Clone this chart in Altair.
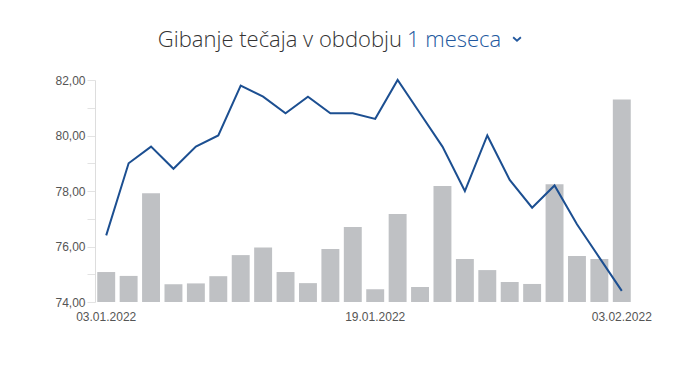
import altair as alt
import pandas as pd

dates = ["03.01.2022", "04.01.2022", "05.01.2022", "06.01.2022", "07.01.2022",
         "10.01.2022", "11.01.2022", "12.01.2022", "13.01.2022", "14.01.2022",
         "17.01.2022", "18.01.2022", "19.01.2022", "20.01.2022", "21.01.2022",
         "24.01.2022", "25.01.2022", "26.01.2022", "27.01.2022", "28.01.2022",
         "31.01.2022", "01.02.2022", "02.02.2022", "03.02.2022"]
price = [76.4, 79.0, 79.6, 78.8, 79.6, 80.0, 81.8, 81.4, 80.8, 81.4,
         80.8, 80.8, 80.6, 82.0, 80.8, 79.6, 78.0, 80.0, 78.4, 77.4,
         78.2, 76.8, 75.6, 74.4]
volume = [1.08, 0.94, 3.92, 0.64, 0.67, 0.93, 1.69, 1.96, 1.08, 0.68,
          1.91, 2.70, 0.46, 3.17, 0.54, 4.18, 1.55, 1.15, 0.72, 0.65,
          4.24, 1.66, 1.55, 7.30]
x_labels = ["03.01.2022", "19.01.2022", "03.02.2022"]
y_ticks = [74, 75, 76, 77, 78, 79, 80, 81, 82]
title_main = ["Gibanje tečaja v obdobju"]
title_period = ["1 meseca"]

df = pd.DataFrame({"datum": dates, "tecaj": price, "promet": volume})

x_enc = alt.X("datum:N", sort=dates,
              scale=alt.Scale(paddingInner=0.2, paddingOuter=0.1),
              axis=alt.Axis(values=x_labels, title=None, labelAngle=0,
                            ticks=False, domain=False, labelPadding=9,
                            labelFont="Liberation Sans", labelFontSize=12,
                            labelColor="#555555"))

bars = alt.Chart(df).mark_bar(color="#bfc1c4").encode(
    x=x_enc,
    y=alt.Y("promet:Q", scale=alt.Scale(domain=[0, 8], nice=False), axis=None),
)

line = alt.Chart(df).mark_line(color="#1c4f91", strokeWidth=2).encode(
    x=alt.X("datum:N", sort=dates),
    y=alt.Y("tecaj:Q", scale=alt.Scale(domain=[74, 82], nice=False, zero=False),
            axis=alt.Axis(values=y_ticks, title=None, tickSize=8,
                          tickColor="#e3e3e3", domainColor="#dddddd",
                          gridColor="#e6e6e6",
                          labelExpr="datum.value % 2 == 0 ? replace(format(datum.value, '.2f'), '.', ',') : ''",
                          labelPadding=2, labelFont="Liberation Sans",
                          labelFontSize=12, labelColor="#555555")),
)

t1 = alt.Chart(pd.DataFrame({"t": title_main})).mark_text(
    align="right", baseline="alphabetic", font="Open Sans", fontSize=22,
    fontWeight=300, color="#333333").encode(
    text="t:N", x=alt.value(307), y=alt.value(-33))
t2 = alt.Chart(pd.DataFrame({"t": title_period})).mark_text(
    align="left", baseline="alphabetic", font="Open Sans", fontSize=22,
    fontWeight=300, color="#22589e").encode(
    text="t:N", x=alt.value(312), y=alt.value(-33))
chevron = alt.Chart(pd.DataFrame({"t": ["v"]})).mark_point(
    shape="M-1,-0.45L0,0.45L1,-0.45", filled=False, strokeWidth=1.8,
    size=60, color="#22589e", opacity=1).encode(
    x=alt.value(422), y=alt.value(-41))

chart = alt.layer(bars, line, t1, t2, chevron).resolve_scale(y="independent").properties(
    width=538, height=222,
    autosize=alt.AutoSizeParams(type="none"),
    padding={"left": 95, "top": 80, "right": 46, "bottom": 70},
    background="white",
).configure_view(stroke=None)

chart.save("out.html", embed_options={"renderer": "svg", "actions": False})
